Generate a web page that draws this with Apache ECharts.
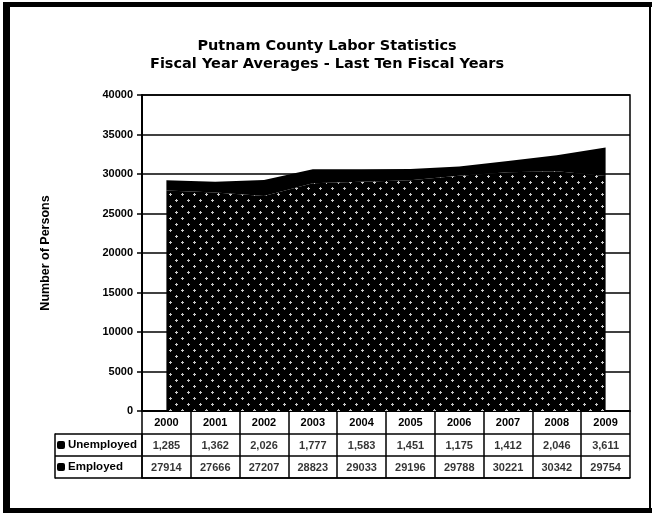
<!DOCTYPE html>
<html><head><meta charset="utf-8">
<script src="https://cdn.jsdelivr.net/npm/echarts@6/dist/echarts.min.js"></script>
<style>html,body{margin:0;padding:0;background:#fff}#c{width:654px;height:514px}</style>
</head><body><div id="c"></div>
<script>
const years = ['2000','2001','2002','2003','2004','2005','2006','2007','2008','2009'];
const unemployed = [1285,1362,2026,1777,1583,1451,1175,1412,2046,3611];
const employed = [27914,27666,27207,28823,29033,29196,29788,30221,30342,29754];
const rowNames = ['Unemployed','Employed'];
const titleLines = ['Putnam County Labor Statistics','Fiscal Year Averages - Last Ten Fiscal Years'];
const yAxisName = 'Number of Persons';

function makePattern(){
  const c = document.createElement('canvas');
  c.width = 12; c.height = 12;
  const g = c.getContext('2d');
  g.fillStyle = '#000'; g.fillRect(0,0,12,12);
  g.fillStyle = '#c8c8c8';
  [[2,2],[8,8]].forEach(([x,y])=>{ g.fillRect(x-1,y,3,1); g.fillRect(x,y-1,1,3); });
  return c;
}
const FONT = 'Liberation Sans, Arial, sans-serif';
const chart = echarts.init(document.getElementById('c'), null, {renderer:'canvas'});
const fmtComma = v => v.toLocaleString('en-US');

chart.setOption({
  animation:false,
  backgroundColor:'#fff',
  title:{
    text: titleLines.join('\n'), left:'center', top:32,
    textStyle:{fontFamily:'DejaVu Sans', fontWeight:'bold', fontSize:14.5, lineHeight:18, color:'#000'}
  },
  graphic:[
    {type:'rect', shape:{x:3,y:2,width:7,height:511}, style:{fill:'#000'}, silent:true},
    {type:'rect', shape:{x:3,y:2,width:649,height:5}, style:{fill:'#000'}, silent:true},
    {type:'rect', shape:{x:3,y:508,width:649,height:5}, style:{fill:'#000'}, silent:true},
    {type:'rect', shape:{x:649,y:2,width:2,height:511}, style:{fill:'#000'}, silent:true}
  ],
  grid:[
    {left:142, right:24, top:95, bottom:103, show:true, borderColor:'#000', borderWidth:1.5, containLabel:false},
    {left:142, right:24, top:434, bottom:36, show:false, containLabel:false}
  ],
  xAxis:[
    {type:'category', gridIndex:0, data:years, boundaryGap:true,
     axisLine:{show:true, lineStyle:{color:'#000', width:2}},
     axisTick:{show:true, interval:0, length:67, lineStyle:{color:'#000', width:1.5}},
     axisLabel:{interval:0, margin:6, color:'#000', fontFamily:FONT, fontWeight:'bold', fontSize:11}},
    {type:'category', gridIndex:1, data:years, boundaryGap:true, position:'bottom',
     axisLine:{show:true, lineStyle:{color:'#000', width:1.5}},
     axisTick:{show:false}, axisLabel:{show:false}}
  ],
  yAxis:[
    {type:'value', gridIndex:0, min:0, max:40000, interval:5000,
     name:yAxisName, nameLocation:'middle', nameGap:90,
     nameTextStyle:{fontFamily:FONT, fontWeight:'bold', fontSize:12.5, color:'#000'},
     axisLine:{show:true, lineStyle:{color:'#000', width:2}},
     axisTick:{show:true, length:5, lineStyle:{color:'#000', width:1.5}},
     splitLine:{show:true, lineStyle:{color:'#000', width:1.5}},
     axisLabel:{margin:9, color:'#000', fontFamily:FONT, fontWeight:'bold', fontSize:11, formatter: v => String(v)}},
    {type:'category', gridIndex:1, data:rowNames, inverse:true,
     axisLine:{show:true, lineStyle:{color:'#000', width:1.5}},
     axisTick:{show:true, interval:0, length:87, lineStyle:{color:'#000', width:1.5}},
     splitLine:{show:true, interval:0, lineStyle:{color:'#000', width:1.5}},
     axisLabel:{interval:0, align:'left', margin:85, color:'#000', fontFamily:FONT, fontWeight:'bold', fontSize:11.5,
       formatter: v => '{m|}{t|' + v + '}',
       rich:{m:{backgroundColor:'#000', width:8, height:8, borderRadius:2}, t:{padding:[0,0,0,3], fontFamily:FONT, fontWeight:'bold', fontSize:11.5, color:'#000'}}}},
    {type:'category', gridIndex:1, data:rowNames, inverse:true, position:'left', offset:87,
     axisLine:{show:true, lineStyle:{color:'#000', width:1.5}},
     axisTick:{show:false}, axisLabel:{show:false}}
  ],
  series:[
    {name:'Employed', type:'line', xAxisIndex:0, yAxisIndex:0, stack:'total', data:employed,
     symbol:'none', lineStyle:{width:0}, areaStyle:{color:{image:makePattern(), repeat:'repeat'}, opacity:1}},
    {name:'Unemployed', type:'line', xAxisIndex:0, yAxisIndex:0, stack:'total', data:unemployed,
     symbol:'none', lineStyle:{width:0}, areaStyle:{color:'#000', opacity:1}},
    {name:'UnemployedTable', type:'scatter', xAxisIndex:1, yAxisIndex:1, symbolSize:1,
     itemStyle:{color:'rgba(0,0,0,0)'},
     data: unemployed.map((v,i)=>[i, rowNames[0], v]),
     label:{show:true, position:'inside', offset:[0,1], formatter:p=>fmtComma(unemployed[p.dataIndex]),
       color:'#000', fontFamily:FONT, fontWeight:'bold', fontSize:11}},
    {name:'EmployedTable', type:'scatter', xAxisIndex:1, yAxisIndex:1, symbolSize:1,
     itemStyle:{color:'rgba(0,0,0,0)'},
     data: employed.map((v,i)=>[i, rowNames[1], v]),
     label:{show:true, position:'inside', offset:[0,1], formatter:p=>String(employed[p.dataIndex]),
       color:'#000', fontFamily:FONT, fontWeight:'bold', fontSize:11}}
  ]
});
</script></body></html>
